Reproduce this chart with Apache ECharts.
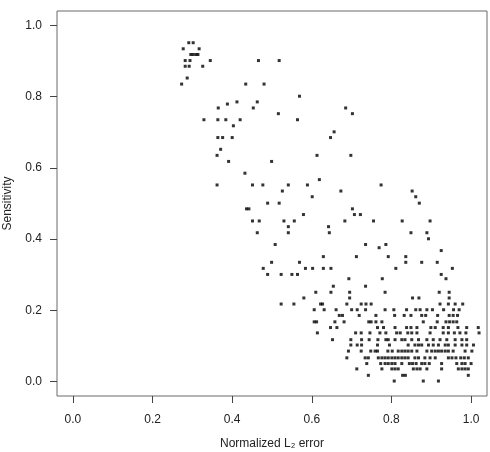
<!DOCTYPE html>
<html lang="en">
<head>
    <meta charset="UTF-8">
    <title>Sensitivity vs normalized L2 error</title>
    <script src="https://cdn.jsdelivr.net/npm/echarts@6/dist/echarts.min.js"></script>
    <style type="text/css">
        html, body { margin: 0; padding: 0; background: #fff; }
        #chart { width: 490px; height: 452px; }
    </style>
</head>
<body>
<div id="chart"></div>
<script>
    // tick positions on both axes
    var tickValues = [0, 0.2, 0.4, 0.6, 0.8, 1.0];

    // points, [error, sensitivity]
    var topCluster = [
        [0.291, 0.951], [0.302, 0.951], [0.277, 0.934], [0.317, 0.934],
        [0.296, 0.918], [0.302, 0.918], [0.309, 0.918], [0.314, 0.918],
        [0.282, 0.901], [0.294, 0.901], [0.345, 0.901], [0.282, 0.885],
        [0.292, 0.885], [0.326, 0.885], [0.287, 0.852], [0.273, 0.835]
    ];

    var upperBand = [
        [0.466, 0.901], [0.518, 0.901], [0.434, 0.835], [0.480, 0.835],
        [0.569, 0.801], [0.412, 0.785], [0.463, 0.785], [0.388, 0.779],
        [0.365, 0.768], [0.453, 0.768], [0.685, 0.768], [0.516, 0.752],
        [0.702, 0.752], [0.329, 0.735], [0.364, 0.735], [0.384, 0.735],
        [0.420, 0.735], [0.564, 0.735], [0.403, 0.718], [0.656, 0.701],
        [0.364, 0.685], [0.376, 0.685], [0.400, 0.685], [0.647, 0.685],
        [0.371, 0.652], [0.362, 0.635], [0.613, 0.635], [0.698, 0.635],
        [0.391, 0.618], [0.499, 0.618], [0.432, 0.585], [0.619, 0.567]
    ];

    var middleBand = [
        [0.362, 0.552], [0.451, 0.552], [0.477, 0.552], [0.541, 0.552],
        [0.589, 0.552], [0.774, 0.552], [0.526, 0.535], [0.673, 0.535],
        [0.852, 0.535], [0.601, 0.519], [0.861, 0.519], [0.489, 0.501],
        [0.518, 0.501], [0.870, 0.501], [0.436, 0.485], [0.442, 0.485],
        [0.702, 0.485], [0.579, 0.469], [0.707, 0.469], [0.722, 0.469],
        [0.451, 0.451], [0.468, 0.451], [0.530, 0.451], [0.556, 0.451],
        [0.683, 0.451], [0.755, 0.451], [0.827, 0.451], [0.897, 0.451],
        [0.541, 0.435], [0.642, 0.435], [0.463, 0.418], [0.541, 0.418],
        [0.644, 0.418], [0.849, 0.418], [0.889, 0.418], [0.893, 0.401],
        [0.508, 0.385], [0.735, 0.385], [0.786, 0.385], [0.769, 0.376],
        [0.925, 0.368], [0.629, 0.351], [0.712, 0.351], [0.792, 0.351],
        [0.836, 0.351], [0.499, 0.335], [0.569, 0.335], [0.836, 0.335],
        [0.876, 0.335], [0.915, 0.335], [0.478, 0.318], [0.584, 0.318],
        [0.602, 0.318], [0.629, 0.318], [0.648, 0.318], [0.811, 0.318],
        [0.953, 0.318], [0.489, 0.301], [0.523, 0.301], [0.550, 0.301],
        [0.564, 0.301], [0.925, 0.301]
    ];

    var lowerBand = [
        [0.693, 0.289], [0.777, 0.289], [0.937, 0.289], [0.654, 0.268],
        [0.735, 0.268], [0.610, 0.251], [0.648, 0.251], [0.695, 0.251],
        [0.784, 0.251], [0.920, 0.251], [0.945, 0.251], [0.580, 0.235],
        [0.695, 0.235], [0.853, 0.235], [0.869, 0.235], [0.945, 0.235],
        [0.523, 0.218], [0.555, 0.218], [0.622, 0.218], [0.627, 0.218],
        [0.688, 0.218], [0.724, 0.218], [0.736, 0.218], [0.749, 0.218],
        [0.922, 0.218], [0.943, 0.218], [0.960, 0.218], [0.979, 0.218]
    ];

    // dense bottom part: one sensitivity level per row, errors along it
    var rowLevels = [0.202, 0.186, 0.168, 0.152, 0.137, 0.118, 0.103, 0.086, 0.067, 0.051, 0.036, 0.018, 0.002];
    var rowErrors = [
        [0.606, 0.631, 0.661, 0.700, 0.714, 0.735, 0.784, 0.806, 0.838, 0.861, 0.872, 0.889, 0.903, 0.931, 0.956, 0.970],
        [0.669, 0.677, 0.719, 0.761, 0.808, 0.832, 0.849, 0.876, 0.886, 0.916, 0.945, 0.955, 0.966],
        [0.606, 0.612, 0.658, 0.681, 0.743, 0.749, 0.761, 0.776, 0.880, 0.915, 0.937, 0.946, 0.955, 0.964],
        [0.647, 0.663, 0.765, 0.780, 0.809, 0.838, 0.849, 0.864, 0.899, 0.910, 0.930, 0.943, 0.967, 0.989, 1.018],
        [0.614, 0.710, 0.724, 0.746, 0.771, 0.786, 0.813, 0.822, 0.841, 0.851, 0.864, 0.897, 0.930, 0.943, 0.958, 0.972, 0.987, 1.020],
        [0.652, 0.698, 0.725, 0.744, 0.766, 0.786, 0.792, 0.809, 0.826, 0.834, 0.851, 0.868, 0.889, 0.905, 0.922, 0.939, 0.960, 0.977, 0.989],
        [0.698, 0.714, 0.725, 0.765, 0.795, 0.842, 0.859, 0.868, 0.876, 0.893, 0.905, 0.918, 0.935, 0.943, 0.960, 0.977, 0.989, 1.006],
        [0.692, 0.724, 0.748, 0.759, 0.765, 0.791, 0.802, 0.817, 0.826, 0.834, 0.842, 0.851, 0.864, 0.889, 0.901, 0.910, 0.918, 0.926, 0.935, 0.943, 0.955, 0.985, 1.002],
        [0.688, 0.734, 0.742, 0.767, 0.776, 0.784, 0.792, 0.801, 0.809, 0.817, 0.826, 0.834, 0.842, 0.859, 0.868, 0.884, 0.897, 0.910, 0.943, 0.952, 0.962, 0.974, 0.983, 0.993],
        [0.738, 0.773, 0.784, 0.792, 0.801, 0.809, 0.826, 0.845, 0.853, 0.862, 0.876, 0.884, 0.895, 0.926, 0.964, 0.977, 0.985, 1.000],
        [0.713, 0.776, 0.801, 0.809, 0.817, 0.855, 0.864, 0.872, 0.889, 0.926, 0.968, 0.977, 0.985, 0.993],
        [0.742, 0.828, 0.835, 0.993],
        [0.807, 0.880, 0.918]
    ];

    var densePoints = [];
    for (var i = 0; i < rowLevels.length; i++) {
        for (var j = 0; j < rowErrors[i].length; j++) {
            densePoints.push([rowErrors[i][j], rowLevels[i]]);
        }
    }
    var allPoints = topCluster.concat(upperBand, middleBand, lowerBand, densePoints);

    var font = '"Liberation Sans", Arial, Helvetica, sans-serif';

    var myChart = echarts.init(document.getElementById('chart'));
    var option = {
        animation: false,
        grid: {
            left: 57, right: 3, top: 11, bottom: 56,
            outerBoundsMode: 'none',
            show: true,
            borderColor: '#6b6b6b',
            borderWidth: 1
        },
        xAxis: {
            type: 'value',
            min: -0.04,
            max: 1.04,
            name: 'Normalized L₂ error',
            nameLocation: 'middle',
            nameGap: 42,
            nameMoveOverlap: false,
            nameTextStyle: { color: '#222', fontSize: 12, fontFamily: font },
            axisLine: { show: false, onZero: false },
            axisTick: {
                show: true, length: 7, inside: false,
                customValues: tickValues,
                lineStyle: { color: '#444' }
            },
            axisLabel: {
                customValues: tickValues,
                margin: 18,
                color: '#222',
                fontSize: 12,
                fontFamily: font,
                formatter: function (v) { return v.toFixed(1); }
            },
            splitLine: { show: false }
        },
        yAxis: {
            type: 'value',
            min: -0.04,
            max: 1.04,
            name: 'Sensitivity',
            nameLocation: 'middle',
            nameGap: 43,
            nameRotate: 90,
            nameMoveOverlap: false,
            nameTextStyle: { color: '#222', fontSize: 12, fontFamily: font },
            axisLine: { show: false, onZero: false },
            axisTick: {
                show: true, length: 7, inside: false,
                customValues: tickValues,
                lineStyle: { color: '#444' }
            },
            axisLabel: {
                customValues: tickValues,
                margin: 15,
                color: '#222',
                fontSize: 12,
                fontFamily: font,
                formatter: function (v) { return v.toFixed(1); }
            },
            splitLine: { show: false }
        },
        series: [{
            type: 'scatter',
            data: allPoints,
            symbol: 'rect',
            symbolSize: 3,
            itemStyle: { color: '#000' },
            silent: true
        }]
    };
    myChart.setOption(option);
</script>
</body>
</html>
